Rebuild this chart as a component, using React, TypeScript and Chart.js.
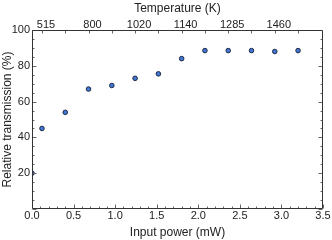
import React, { useEffect, useRef } from "react";
import { Chart, registerables } from "chart.js";

Chart.register(...registerables);

const powerMW = [0, 0.12, 0.4, 0.68, 0.96, 1.24, 1.52, 1.8, 2.08, 2.36, 2.64, 2.92, 3.2];
const transmission = [20, 45, 54, 67, 69, 73, 75.5, 84, 88.5, 88.5, 88.5, 88, 88.5];
const tempPositions = [0.12, 0.68, 1.24, 1.8, 2.36, 2.92];
const tempLabels = ["515", "800", "1020", "1140", "1285", "1460"];

const FONT = "'Liberation Sans', Arial, Helvetica, sans-serif";
const AXIS_COLOR = "#333";
const TEXT_COLOR = "#222";

const framePlugin = {
  id: "frame",
  afterDatasetsDraw(chart: any) {
    const { ctx, chartArea, scales } = chart;
    const L = Math.round(chartArea.left) + 0.5;
    const R = Math.round(chartArea.right) - 0.5;
    const T = Math.round(chartArea.top) + 0.5;
    const B = Math.round(chartArea.bottom) - 0.5;
    ctx.save();
    ctx.lineWidth = 1;
    ctx.strokeStyle = "#666";
    ctx.beginPath();
    for (let i = 0; i <= 35; i++) {
      const px = Math.round(scales.x.getPixelForValue(i / 10)) + 0.5;
      const len = i % 5 === 0 ? 4 : 2;
      ctx.moveTo(px, B);
      ctx.lineTo(px, B - len);
    }
    for (const v of powerMW) {
      const px = Math.round(scales.x2.getPixelForValue(v)) + 0.5;
      ctx.moveTo(px, T);
      ctx.lineTo(px, T + 3);
    }
    for (let i = 0; i <= 20; i++) {
      const py = Math.round(scales.y.getPixelForValue(i * 5)) + 0.5;
      const len = i % 4 === 0 ? 4 : 2;
      ctx.moveTo(L, py);
      ctx.lineTo(L + len, py);
      ctx.moveTo(R, py);
      ctx.lineTo(R - len, py);
    }
    ctx.stroke();
    ctx.strokeStyle = AXIS_COLOR;
    ctx.beginPath();
    ctx.rect(L, T, R - L, B - T);
    ctx.stroke();
    ctx.restore();
  },
};

export default function App() {
  const ref = useRef<HTMLCanvasElement>(null);
  useEffect(() => {
    if (!ref.current) return;
    Chart.defaults.font.family = FONT;
    const chart = new Chart(ref.current, {
      type: "scatter",
      data: {
        datasets: [
          {
            data: powerMW.map((x, i) => ({ x, y: transmission[i] })),
            pointRadius: 2.3,
            pointHoverRadius: 2.3,
            pointBackgroundColor: "#4175d6",
            pointBorderColor: "#1c2a40",
            pointBorderWidth: 1,
            xAxisID: "x",
            yAxisID: "y",
          },
        ],
      },
      options: {
        responsive: false,
        animation: false,
        layout: { padding: { left: 0, top: 0, right: 9, bottom: 0 } },
        plugins: { legend: { display: false }, tooltip: { enabled: false } },
        scales: {
          x: {
            type: "linear",
            position: "bottom",
            min: 0,
            max: 3.5,
            grid: { display: false, drawTicks: false },
            border: { display: false },
            ticks: {
              stepSize: 0.5,
              autoSkip: false,
              maxRotation: 0,
              padding: 0,
              color: TEXT_COLOR,
              font: { size: 11, family: FONT },
              callback: (v: any) => Number(v).toFixed(1),
            },
            title: {
              display: true,
              text: "Input power (mW)",
              color: TEXT_COLOR,
              font: { size: 12, family: FONT },
              padding: { top: 0, bottom: 0 },
            },
            afterFit: (s: any) => {
              s.height = 31;
            },
          },
          x2: {
            type: "linear",
            position: "top",
            min: 0,
            max: 3.5,
            grid: { display: false, drawTicks: false },
            border: { display: false },
            afterBuildTicks: (s: any) => {
              s.ticks = tempPositions.map((v) => ({ value: v }));
            },
            ticks: {
              autoSkip: false,
              maxRotation: 0,
              padding: -2,
              labelOffset: 4,
              color: TEXT_COLOR,
              font: { size: 11, family: FONT },
              callback: (_v: any, i: number) => tempLabels[i],
            },
            title: {
              display: true,
              text: "Temperature (K)",
              color: TEXT_COLOR,
              font: { size: 12, family: FONT },
              padding: { top: 1, bottom: 0 },
            },
            afterFit: (s: any) => {
              s.height = 30;
            },
          },
          y: {
            type: "linear",
            position: "left",
            min: 0,
            max: 100,
            grid: { display: false, drawTicks: false },
            border: { display: false },
            ticks: {
              stepSize: 20,
              padding: 2,
              color: TEXT_COLOR,
              font: { size: 11, family: FONT },
              callback: (v: any) => (Number(v) === 0 ? "" : String(v)),
            },
            title: {
              display: true,
              text: "Relative transmission (%)",
              color: TEXT_COLOR,
              font: { size: 12, family: FONT },
              padding: { top: 0, bottom: 0 },
            },
            afterFit: (s: any) => {
              s.width = 32;
            },
          },
        },
      } as any,
      plugins: [framePlugin],
    });
    return () => chart.destroy();
  }, []);
  return (
    <div style={{ position: "absolute", left: 0, top: 0, width: 332, height: 240 }}>
      <canvas ref={ref} width={332} height={240} />
    </div>
  );
}
